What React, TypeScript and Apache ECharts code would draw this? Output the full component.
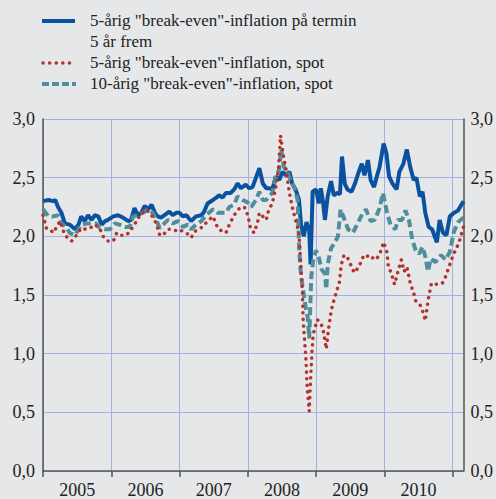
import React, { useEffect, useRef } from "react";
import * as echarts from "echarts";

// 5-årig "break-even"-inflasjon på termin 5 år frem
const forwardDates = [
  2005.0, 2005.08, 2005.15, 2005.18, 2005.22, 2005.27, 2005.32, 2005.39, 2005.47, 2005.52, 2005.56, 2005.61,
  2005.66, 2005.71, 2005.76, 2005.81, 2005.86, 2005.91, 2005.95, 2006.03, 2006.1, 2006.17, 2006.25, 2006.29,
  2006.34, 2006.39, 2006.44, 2006.49, 2006.54, 2006.59, 2006.64, 2006.68, 2006.73, 2006.78, 2006.85, 2006.9,
  2006.95, 2007.0, 2007.05, 2007.1, 2007.17, 2007.24, 2007.32, 2007.36, 2007.41, 2007.49, 2007.54, 2007.58,
  2007.63, 2007.68, 2007.75, 2007.8, 2007.85, 2007.9, 2007.97, 2008.02, 2008.07, 2008.12, 2008.17, 2008.22,
  2008.27, 2008.31, 2008.36, 2008.41, 2008.46, 2008.51, 2008.56, 2008.61, 2008.65, 2008.7, 2008.75, 2008.78,
  2008.82, 2008.86, 2008.9, 2008.92, 2008.95, 2009.0, 2009.04, 2009.07, 2009.1, 2009.13, 2009.17, 2009.22,
  2009.26, 2009.31, 2009.35, 2009.38, 2009.42, 2009.46, 2009.52, 2009.57, 2009.62, 2009.67, 2009.71, 2009.76,
  2009.8, 2009.85, 2009.89, 2009.93, 2009.99, 2010.03, 2010.07, 2010.12, 2010.18, 2010.22, 2010.28, 2010.33,
  2010.38, 2010.43, 2010.47, 2010.52, 2010.56, 2010.6, 2010.65, 2010.7, 2010.77, 2010.81, 2010.86, 2010.91,
  2010.96, 2011.02, 2011.08, 2011.16,
];
const forwardValues = [
  2.3, 2.31, 2.3, 2.31, 2.25, 2.2, 2.11, 2.1, 2.06, 2.1, 2.17, 2.13,
  2.18, 2.14, 2.18, 2.17, 2.1, 2.13, 2.14, 2.17, 2.18, 2.16, 2.13, 2.14,
  2.24, 2.18, 2.2, 2.26, 2.23, 2.27, 2.2, 2.17, 2.16, 2.18, 2.21, 2.18,
  2.2, 2.2, 2.17, 2.18, 2.13, 2.17, 2.18, 2.21, 2.28, 2.31, 2.33, 2.35,
  2.33, 2.37, 2.37, 2.4, 2.45, 2.41, 2.44, 2.41, 2.42, 2.5, 2.58, 2.45,
  2.41, 2.41, 2.4, 2.51, 2.48, 2.55, 2.52, 2.55, 2.45, 2.4, 2.31, 2.1,
  2.0, 2.12, 2.05, 1.76, 2.38, 2.4, 2.28, 2.41, 2.3, 2.14, 2.34, 2.47,
  2.35, 2.37, 2.36, 2.68, 2.45, 2.4, 2.38, 2.45, 2.54, 2.62, 2.52, 2.65,
  2.48, 2.42, 2.51, 2.59, 2.79, 2.71, 2.51, 2.45, 2.4, 2.55, 2.62, 2.74,
  2.59, 2.48, 2.5, 2.34, 2.38, 2.2, 2.08, 2.06, 1.95, 2.14, 2.03, 2.01,
  2.17, 2.2, 2.22, 2.3,
];

// 5-årig "break-even"-inflasjon, spot
const spot5Dates = [
  2005.0, 2005.05, 2005.1, 2005.15, 2005.25, 2005.32, 2005.42, 2005.49, 2005.56, 2005.63, 2005.69, 2005.76,
  2005.83, 2005.88, 2005.95, 2006.03, 2006.08, 2006.15, 2006.22, 2006.27, 2006.34, 2006.42, 2006.51, 2006.59,
  2006.66, 2006.71, 2006.76, 2006.83, 2006.9, 2006.98, 2007.02, 2007.1, 2007.17, 2007.24, 2007.34, 2007.41,
  2007.49, 2007.56, 2007.63, 2007.68, 2007.73, 2007.8, 2007.88, 2007.95, 2008.0, 2008.04, 2008.09, 2008.14,
  2008.17, 2008.22, 2008.27, 2008.31, 2008.36, 2008.41, 2008.45, 2008.48, 2008.52, 2008.56, 2008.61, 2008.65,
  2008.7, 2008.75, 2008.77, 2008.8, 2008.81, 2008.83, 2008.85, 2008.86, 2008.87, 2008.88, 2008.9, 2008.92,
  2008.94, 2008.96, 2009.0, 2009.02, 2009.07, 2009.1, 2009.13, 2009.15, 2009.18, 2009.22, 2009.25, 2009.28,
  2009.31, 2009.34, 2009.37, 2009.41, 2009.46, 2009.52, 2009.56, 2009.6, 2009.65, 2009.7, 2009.75, 2009.8,
  2009.85, 2009.9, 2009.94, 2009.99, 2010.04, 2010.06, 2010.1, 2010.15, 2010.2, 2010.25, 2010.29, 2010.33,
  2010.38, 2010.43, 2010.46, 2010.52, 2010.57, 2010.6, 2010.64, 2010.69, 2010.75, 2010.85, 2010.9, 2010.99,
  2011.04, 2011.09, 2011.12, 2011.16,
];
const spot5Values = [
  2.18, 2.07, 2.06, 2.03, 2.13, 2.01, 1.96, 2.01, 2.07, 2.06, 2.07, 2.1,
  2.07, 2.0, 1.96, 1.96, 2.03, 2.01, 2.01, 2.04, 2.1, 2.18, 2.23, 2.18,
  2.11, 2.01, 2.01, 2.06, 2.06, 2.04, 2.05, 2.03, 1.99, 2.05, 2.08, 2.13,
  2.17, 2.07, 2.04, 2.03, 2.1, 2.18, 2.24, 2.25, 2.18, 2.07, 2.03, 2.11,
  2.2, 2.17, 2.14, 2.23, 2.28, 2.42, 2.58, 2.86, 2.69, 2.57, 2.37, 2.25,
  2.14, 2.03, 1.82, 1.53, 1.3, 1.13, 0.97, 0.84, 0.71, 0.65, 0.51, 0.78,
  1.02, 1.17, 1.25, 1.29, 1.26, 1.21, 1.11, 1.04, 1.2, 1.36, 1.43, 1.49,
  1.55, 1.6, 1.76, 1.84, 1.82, 1.74, 1.69, 1.72, 1.77, 1.84, 1.83, 1.84,
  1.8, 1.82, 1.86, 1.95, 1.86, 1.74, 1.69, 1.59, 1.7, 1.8, 1.7, 1.74,
  1.6, 1.52, 1.45, 1.42, 1.35, 1.28, 1.45, 1.6, 1.59, 1.6, 1.66, 1.81,
  1.88, 1.94, 2.0, 2.08,
];

// 10-årig "break-even"-inflasjon, spot
const spot10Dates = [
  2005.0, 2005.08, 2005.15, 2005.22, 2005.27, 2005.35, 2005.39, 2005.47, 2005.52, 2005.56, 2005.64, 2005.71,
  2005.78, 2005.83, 2005.91, 2005.98, 2006.05, 2006.12, 2006.2, 2006.27, 2006.32, 2006.39, 2006.46, 2006.54,
  2006.61, 2006.66, 2006.71, 2006.76, 2006.83, 2006.9, 2006.98, 2007.05, 2007.12, 2007.17, 2007.24, 2007.32,
  2007.39, 2007.49, 2007.56, 2007.63, 2007.68, 2007.73, 2007.8, 2007.85, 2007.92, 2008.0, 2008.05, 2008.12,
  2008.17, 2008.22, 2008.27, 2008.31, 2008.36, 2008.41, 2008.46, 2008.49, 2008.53, 2008.58, 2008.63, 2008.68,
  2008.73, 2008.75, 2008.77, 2008.79, 2008.85, 2008.88, 2008.9, 2008.93, 2008.96, 2009.0, 2009.04, 2009.08,
  2009.13, 2009.15, 2009.17, 2009.22, 2009.27, 2009.32, 2009.36, 2009.4, 2009.47, 2009.54, 2009.6, 2009.66,
  2009.73, 2009.8, 2009.86, 2009.93, 2009.98, 2010.04, 2010.09, 2010.16, 2010.2, 2010.26, 2010.31, 2010.36,
  2010.41, 2010.46, 2010.51, 2010.56, 2010.6, 2010.64, 2010.68, 2010.75, 2010.83, 2010.9, 2010.96, 2011.02,
  2011.08, 2011.16,
];
const spot10Values = [
  2.23, 2.17, 2.17, 2.18, 2.11, 2.07, 2.03, 2.01, 2.06, 2.1, 2.11, 2.11,
  2.11, 2.07, 2.06, 2.06, 2.11, 2.1, 2.08, 2.08, 2.17, 2.18, 2.2, 2.23,
  2.2, 2.14, 2.07, 2.1, 2.14, 2.11, 2.13, 2.08, 2.1, 2.06, 2.1, 2.13,
  2.18, 2.23, 2.2, 2.2, 2.2, 2.25, 2.27, 2.34, 2.31, 2.29, 2.25, 2.31,
  2.38, 2.31, 2.31, 2.34, 2.37, 2.51, 2.57, 2.74, 2.59, 2.55, 2.47, 2.42,
  2.31, 1.93, 1.73, 1.62, 1.39, 1.3, 1.13, 1.66, 1.8, 1.88, 1.82, 1.72,
  1.68, 1.55, 1.76, 1.9, 1.94, 2.0, 2.23, 2.17, 2.06, 2.03, 2.1, 2.17,
  2.23, 2.13, 2.14, 2.24, 2.37, 2.2, 2.1, 2.06, 2.14, 2.14, 2.22, 2.14,
  1.97, 1.88, 1.85, 1.91, 1.83, 1.7, 1.81, 1.78, 1.84, 1.8, 1.87, 2.04,
  2.12, 2.16,
];

const yearLabelPositions = [2005.5, 2006.5, 2007.5, 2008.5, 2009.5, 2010.5];
const yearTicks = [2005, 2006, 2007, 2008, 2009, 2010, 2011];

const legendLabels = [
  '5-årig "break-even"-inflation på termin',
  "5 år frem",
  '5-årig "break-even"-inflation, spot',
  '10-årig "break-even"-inflation, spot',
];

const BLUE = "#0a52a0";
const RED = "#b5322c";
const TEAL = "#4f8e9d";
const GRID = "#a3b0de";
const AXIS = "#555";
const TEXT = "#222";
const FONT = "Liberation Serif";

const zip = (xs: number[], ys: number[]) => xs.map((x, i) => [x, ys[i]]);

export default function App() {
  const ref = useRef<HTMLDivElement>(null);
  useEffect(() => {
    if (!ref.current) return;
    const chart = echarts.init(ref.current, null, { renderer: "svg" });
    const fmt = (v: number) => v.toFixed(1).replace(".", ",");
    const yLabel = { color: TEXT, fontSize: 18, fontFamily: FONT, formatter: fmt };
    const legendText = (text: string, y: number) => ({
      type: "text",
      x: 90,
      y: y - 9,
      style: { text, fontSize: 17, fontFamily: FONT, fill: TEXT },
    });
    chart.setOption({
      animation: false,
      backgroundColor: "#e6e7e9",
      grid: { left: 43, right: 31, top: 119, bottom: 27 },
      xAxis: {
        type: "value",
        min: 2005,
        max: 2011.16,
        interval: 1,
        axisLine: { show: true, onZero: false, lineStyle: { color: AXIS, width: 1.5 } },
        axisTick: { show: true, length: 6, customValues: yearTicks, lineStyle: { color: AXIS, width: 1.5 } },
        axisLabel: {
          customValues: yearLabelPositions,
          formatter: (v: number) => String(Math.floor(v)),
          color: TEXT,
          fontSize: 18,
          fontFamily: FONT,
          margin: 10,
        },
        splitLine: { show: true, lineStyle: { color: GRID, width: 1 } },
      },
      yAxis: [
        {
          type: "value",
          min: 0,
          max: 3,
          interval: 0.5,
          position: "left",
          axisLine: { show: true, lineStyle: { color: AXIS, width: 1.5 } },
          axisTick: { show: false },
          axisLabel: { ...yLabel, margin: 8 },
          splitLine: { show: true, lineStyle: { color: GRID, width: 1 } },
        },
        {
          type: "value",
          min: 0,
          max: 3,
          interval: 0.5,
          position: "right",
          axisLine: { show: true, lineStyle: { color: AXIS, width: 1.5 } },
          axisTick: { show: false },
          axisLabel: { ...yLabel, margin: 7 },
          splitLine: { show: false },
        },
      ],
      series: [
        {
          name: legendLabels[0],
          type: "line",
          data: zip(forwardDates, forwardValues),
          showSymbol: false,
          symbol: "none",
          lineStyle: { color: BLUE, width: 4 },
          z: 2,
        },
        {
          name: legendLabels[3],
          type: "line",
          data: zip(spot10Dates, spot10Values),
          showSymbol: false,
          symbol: "none",
          lineStyle: { color: TEAL, width: 4, type: [8, 4] },
          z: 3,
        },
        {
          name: legendLabels[2],
          type: "line",
          data: zip(spot5Dates, spot5Values),
          showSymbol: false,
          symbol: "none",
          lineStyle: { color: RED, width: 3.5, type: [0.1, 6.5], cap: "round" },
          z: 4,
        },
      ],
      graphic: [
        { type: "line", shape: { x1: 42, y1: 21, x2: 75, y2: 21 }, style: { stroke: BLUE, lineWidth: 4 } },
        legendText(legendLabels[0], 21),
        legendText(legendLabels[1], 42),
        {
          type: "line",
          shape: { x1: 43, y1: 63, x2: 76, y2: 63 },
          style: { stroke: RED, lineWidth: 3.5, lineDash: [0.1, 6.5], lineCap: "round" },
        },
        legendText(legendLabels[2], 63),
        {
          type: "line",
          shape: { x1: 42, y1: 84, x2: 76, y2: 84 },
          style: { stroke: TEAL, lineWidth: 4, lineDash: [7, 3] },
        },
        legendText(legendLabels[3], 84),
      ],
    });
    return () => chart.dispose();
  }, []);
  return (
    <div>
      <span style={{ fontFamily: FONT, fontSize: 1, opacity: 0, position: "absolute", left: 0, top: 0 }}>a</span>
      <div ref={ref} style={{ position: "fixed", left: 0, top: 0, width: 496, height: 499 }} />
    </div>
  );
}
